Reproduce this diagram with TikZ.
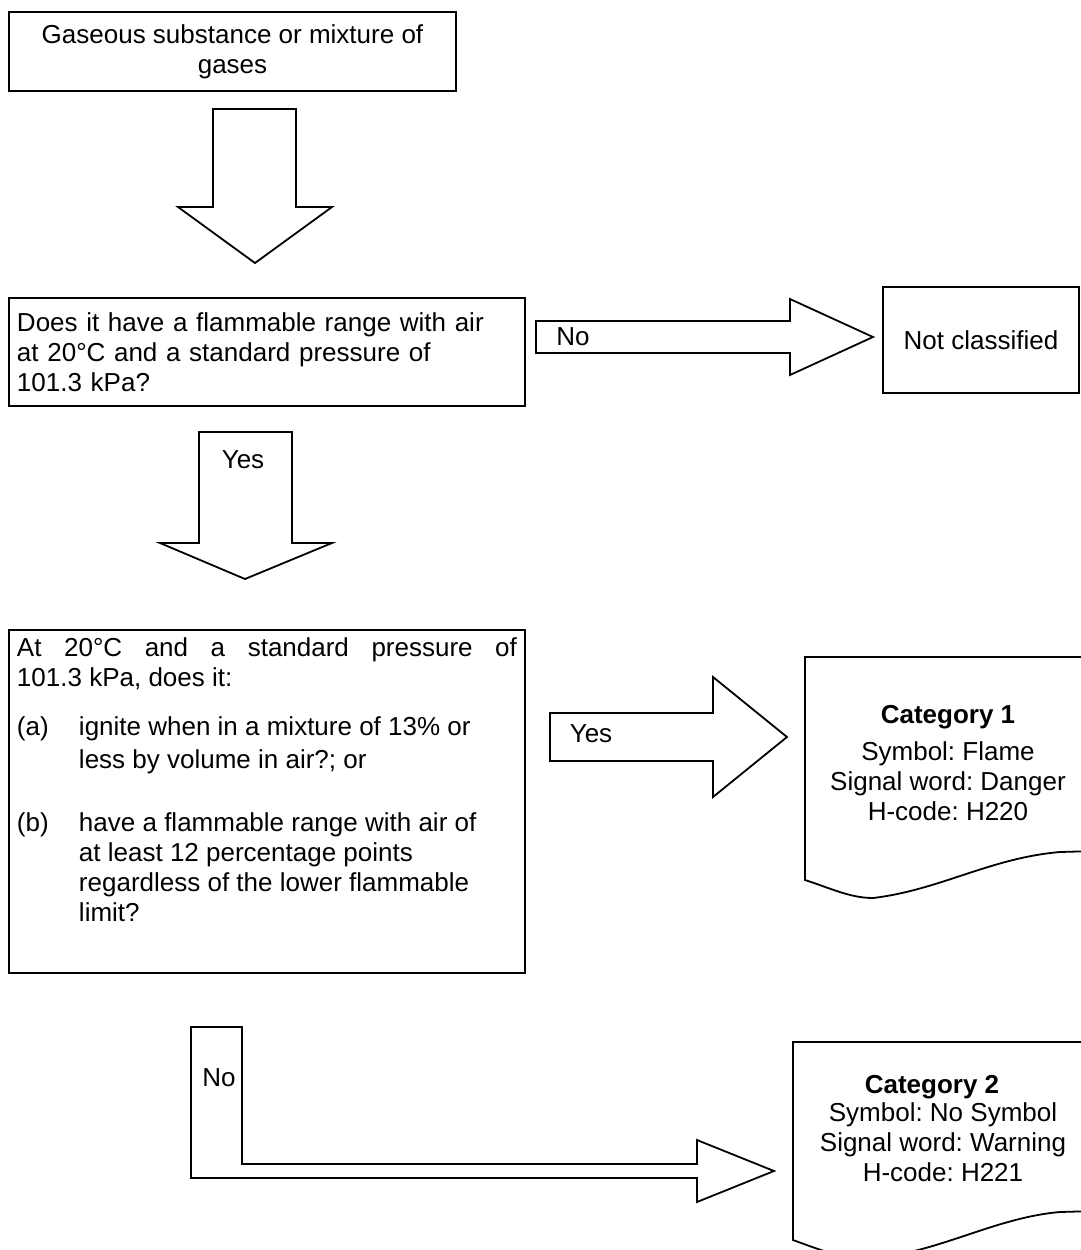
\documentclass[tikz,border=0pt]{standalone}
\usepackage{fontspec}
\setmainfont{Liberation Sans}
\frenchspacing
\tikzset{
  box/.style={draw, line width=0.9pt, inner sep=4pt},
  blockarrow/.style={draw, line width=0.9pt, fill=white},
  lbl/.style={inner sep=0pt},
}
\begin{document}
\begin{tikzpicture}[x=0.5pt, y=-0.5pt, font=\fontsize{13pt}{15pt}\selectfont]
\useasboundingbox (0,0) rectangle (1081,1250);
\clip (0,0) rectangle (1081,1250);
% Start box
\node[box, minimum width=223.5pt, minimum height=39.5pt, align=center] (gas) at (232.5,51.5) {Gaseous substance or mixture of\\ gases};
% First question
\node[box, minimum height=54pt, text width=250pt, align=left] (q1) at (267,352) {Does it have a flammable range with air\\ at 20°C and a standard pressure of\\ 101.3 kPa?};
\node[box, minimum width=98pt, minimum height=53pt, align=center] (notcl) at (981,340) {Not classified};
% Second question
\node[box] (q2) at (267,801.5) {\parbox[c][163.5pt][t]{250pt}{\raggedright
\makebox[250pt][s]{At 20°C and a standard pressure of}\\
101.3 kPa, does it:\\[9.5pt]
\makebox[31pt][l]{(a)}ignite when in a mixture of 13\% or\\[1.5pt]
\hspace*{31pt}less by volume in air?; or\\[16.5pt]
\makebox[31pt][l]{(b)}have a flammable range with air of\\
\hspace*{31pt}at least 12 percentage points\\
\hspace*{31pt}regardless of the lower flammable\\
\hspace*{31pt}limit?}};
% Result documents (cut at the right edge)
\draw[line width=0.9pt] (805,657) -- (1095,657) -- (1095,851) -- (1060,852)
  .. controls (990,858) and (940,890) .. (873,898)
  .. controls (850,898) and (830,888) .. (805,880) -- cycle;
\node[align=center] (cat1) at (948,763) {\textbf{Category 1}\\[3.5pt] Symbol: Flame\\ Signal word: Danger\\ H-code: H220};
\draw[line width=0.9pt] (793,1042) -- (1095,1042) -- (1095,1211) -- (1060,1212)
  .. controls (990,1218) and (930,1258) .. (861,1258)
  .. controls (840,1258) and (815,1248) .. (793,1240) -- cycle;
\node[align=center] (cat2) at (943,1128.5) {\textbf{Category 2}\hspace*{11pt}\\[-1pt] Symbol: No Symbol\\ Signal word: Warning\\ H-code: H221};
% Block arrows
\draw[blockarrow] (213,109) -- (296,109) -- (296,207) -- (332,207) -- (255,263) -- (178,207) -- (213,207) -- cycle;
\draw[blockarrow] (199,432) -- (292,432) -- (292,543) -- (332,543) -- (245,579) -- (160,543) -- (199,543) -- cycle;
\node[lbl] (yes1) at (243,460) {Yes};
\draw[blockarrow] (536,321) -- (790,321) -- (790,299) -- (873,337) -- (790,375) -- (790,353) -- (536,353) -- cycle;
\node[lbl] (no1) at (573,337) {No};
\draw[blockarrow] (550,713) -- (713,713) -- (713,677) -- (787,737) -- (713,797) -- (713,761) -- (550,761) -- cycle;
\node[lbl] (yes2) at (591,734) {Yes};
% L-shaped arrow
\draw[blockarrow] (191,1027) -- (242,1027) -- (242,1164) -- (697,1164) -- (697,1140) -- (774,1171) -- (697,1202) -- (697,1178) -- (191,1178) -- cycle;
\node[lbl] (no2) at (219,1078) {No};
\end{tikzpicture}
\end{document}
